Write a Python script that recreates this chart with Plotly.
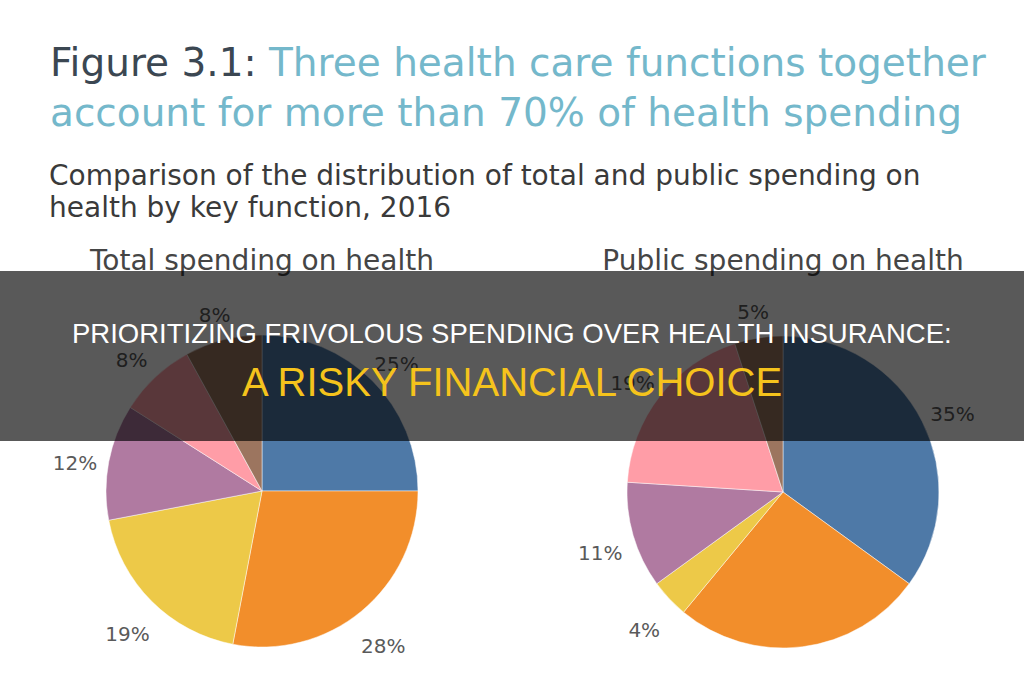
import math
import plotly.graph_objects as go

W, H = 1024, 680

# ---- data ----
slice_names = ["Curative & rehabilitative inpatient", "Curative & rehabilitative outpatient",
               "Pharmaceuticals", "Long-term care", "Prevention & other", "Administration"]
total_values = [25, 28, 19, 12, 8, 8]
public_values = [35, 26, 4, 11, 19, 5]
slice_colors = ["#4e79a7", "#f28e2b", "#edc948", "#b07aa1", "#ff9da7", "#9c755f"]
pie_titles = ["Total spending on health", "Public spending on health"]

title_dark = "Figure 3.1:"
title_line1 = "Three health care functions together"
title_line2 = "account for more than 70% of health spending"
subtitle_lines = ["Comparison of the distribution of total and public spending on",
                  "health by key function, 2016"]
banner_line1 = "PRIORITIZING FRIVOLOUS SPENDING OVER HEALTH INSURANCE:"
banner_line2 = "A RISKY FINANCIAL CHOICE"

# ---- layout geometry (pixels) ----
R = 156
centers = [(262, 491), (783, 492)]
LABEL_K = 1.22
LABEL_DY = 10


def py(y):
    return 1 - y / H


fig = go.Figure()

label_x, label_y, label_t = [], [], []
for (cx, cy), vals in zip(centers, [total_values, public_values]):
    fig.add_trace(go.Pie(
        values=vals, labels=slice_names, sort=False, direction="clockwise", rotation=0,
        marker=dict(colors=slice_colors, line=dict(color="rgba(255,255,255,0.6)", width=0.8)),
        textinfo="none", hoverinfo="label+percent", showlegend=False,
        domain=dict(x=[(cx - R) / W, (cx + R) / W], y=[py(cy + R), py(cy - R)]),
    ))
    tot = sum(vals)
    cum = 0
    for v in vals:
        mid = (cum + v / 2) / tot * 2 * math.pi
        cum += v
        label_x.append(cx + LABEL_K * R * math.sin(mid))
        label_y.append(cy - LABEL_K * R * math.cos(mid) + LABEL_DY)
        label_t.append(f"{v}%")

# pie value labels (in the plot layer so the banner overlay darkens them)
fig.add_trace(go.Scatter(
    x=label_x, y=label_y, text=label_t, mode="text",
    textfont=dict(family="DejaVu Sans", size=20, color="#5a5a5a"),
    hoverinfo="skip", showlegend=False))

# pie titles
fig.add_trace(go.Scatter(
    x=[c[0] for c in centers], y=[263, 263], text=pie_titles, mode="text",
    textfont=dict(family="DejaVu Sans", size=28, color="#454545"),
    hoverinfo="skip", showlegend=False))

fig.update_layout(
    width=W, height=H, margin=dict(l=0, r=0, t=0, b=0),
    paper_bgcolor="white", plot_bgcolor="white",
    xaxis=dict(range=[0, W], visible=False, domain=[0, 1], fixedrange=True),
    yaxis=dict(range=[H, 0], visible=False, domain=[0, 1], fixedrange=True),
)

# title
fig.add_annotation(
    x=48 / W, y=py(62), xref="paper", yref="paper", xanchor="left", yanchor="middle",
    text=f"<span style='color:#3b4752'>{title_dark}</span> {title_line1}",
    showarrow=False, font=dict(family="DejaVu Sans", size=39, color="#74b8cb"))
fig.add_annotation(
    x=48 / W, y=py(113), xref="paper", yref="paper", xanchor="left", yanchor="middle",
    text=title_line2, showarrow=False, font=dict(family="DejaVu Sans", size=39, color="#74b8cb"))
for i, line in enumerate(subtitle_lines):
    fig.add_annotation(
        x=47 / W, y=py(176 + 31 * i), xref="paper", yref="paper", xanchor="left", yanchor="middle",
        text=line, showarrow=False, font=dict(family="DejaVu Sans", size=28, color="#3a3a3a"))

# dark banner overlay
fig.add_shape(type="rect", xref="paper", yref="paper", x0=0, x1=1, y0=py(441), y1=py(271),
              fillcolor="rgba(0,0,0,0.65)", line=dict(width=0), layer="above")
fig.add_annotation(
    x=0.5, y=py(333), xref="paper", yref="paper", xanchor="center", yanchor="middle",
    text=banner_line1, showarrow=False,
    font=dict(family="Liberation Sans", size=27.5, color="#ffffff"))
fig.add_annotation(
    x=0.5, y=py(382), xref="paper", yref="paper", xanchor="center", yanchor="middle",
    text=banner_line2, showarrow=False,
    font=dict(family="Liberation Sans", size=40, color="#f5c31c"))

fig.write_html("out.html")
